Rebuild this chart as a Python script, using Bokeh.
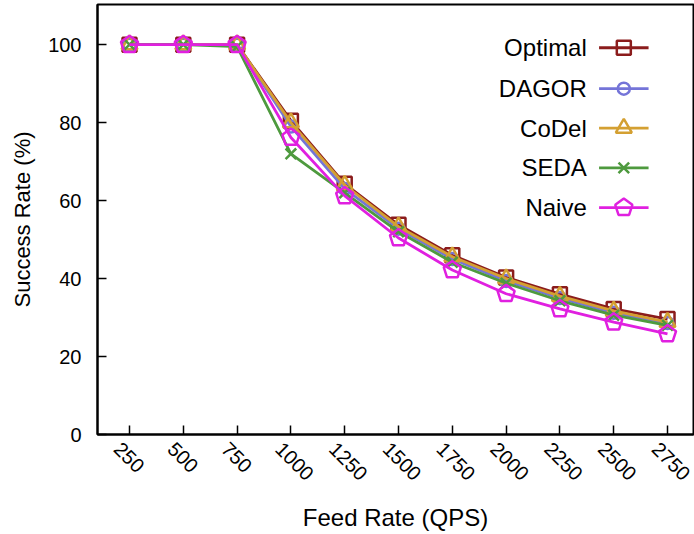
import math
from bokeh.plotting import figure
from bokeh.models import FixedTicker, Range1d, LinearAxis
from bokeh.core.properties import value
from bokeh.embed import file_html
from bokeh.resources import INLINE

qps = [250, 500, 750, 1000, 1250, 1500, 1750, 2000, 2250, 2500, 2750]
optimal = [100, 100, 100, 80.5, 64.3, 53.8, 46.0, 40.3, 36.0, 32.2, 29.6]
dagor = [100, 100, 100, 79.0, 63.0, 52.8, 45.0, 39.4, 35.0, 31.2, 28.6]
codel = [100, 100, 100, 80.0, 64.0, 53.3, 45.6, 40.0, 35.5, 31.7, 28.8]
seda = [100, 100, 99.5, 72.0, 62.0, 52.0, 44.2, 38.8, 34.3, 30.6, 28.0]
naive = [100, 100, 100, 76.2, 61.2, 50.4, 42.2, 36.1, 32.2, 28.8, 25.8]

names = ["Optimal", "DAGOR", "CoDel", "SEDA", "Naive"]
series = [optimal, dagor, codel, seda, naive]
colors = ["#8b1c1c", "#7474d8", "#d4a032", "#4e9a3e", "#e020e0"]
markers = ["square", "circle", "triangle", "x", "pentagon"]
y_ticks = [0, 20, 40, 60, 80, 100]

FONT = "Liberation Sans"
X0, X1 = 101.3, 2870.8
SHIFT = 56  # label axis offset so rotated labels sit centred under ticks

p = figure(width=694, height=534, output_backend="svg", toolbar_location=None,
           x_range=Range1d(X0, X1), y_range=Range1d(0, 110.3),
           min_border_left=97, min_border_right=1, min_border_top=4, min_border_bottom=100)
p.grid.visible = False
p.outline_line_color = "black"
p.outline_line_width = 2
p.background_fill_color = "white"
p.border_fill_color = "white"

for ax in (p.xaxis[0], p.yaxis[0]):
    ax.axis_line_width = 2
    ax.major_tick_in = 9
    ax.major_tick_out = 0
    ax.major_tick_line_width = 1.5
    ax.minor_tick_line_color = None
    ax.major_label_text_font = FONT
    ax.major_label_text_font_size = "20px"
    ax.major_label_text_color = "black"
    ax.axis_label_text_font = FONT
    ax.axis_label_text_font_style = "normal"
    ax.axis_label_text_color = "black"

p.xaxis.ticker = FixedTicker(ticks=qps)
p.yaxis.ticker = FixedTicker(ticks=y_ticks)
p.xaxis.major_label_overrides = {v: "" for v in qps}
p.xaxis.major_label_standoff = 0
p.yaxis.major_label_standoff = 16
p.yaxis.axis_label = "Success Rate (%)"
p.yaxis.axis_label_text_font_size = "22px"
p.yaxis.axis_label_standoff = 10

# label-only axis, shifted so rotated labels are centred under the ticks
p.extra_x_ranges = {"lab": Range1d(X0 + SHIFT, X1 + SHIFT)}
lab = LinearAxis(x_range_name="lab", ticker=FixedTicker(ticks=qps),
                 axis_line_color=None, major_tick_line_color=None, minor_tick_line_color=None,
                 major_label_orientation=-math.pi / 4, major_label_standoff=5,
                 major_label_text_font=FONT, major_label_text_font_size="20px",
                 major_label_text_color="black",
                 axis_label="Feed Rate (QPS)", axis_label_text_font=FONT,
                 axis_label_text_font_size="24px", axis_label_text_font_style="normal",
                 axis_label_text_color="black", axis_label_standoff=14)
p.add_layout(lab, "below")


def draw_marker(x, y, m, c):
    if m == "pentagon":
        p.ngon(x=x, y=y, radius=9, radius_units="screen", n=5, angle=0,
               fill_color=None, line_color=c, line_width=2.5)
    else:
        size = {"square": 14, "circle": 12, "triangle": 16, "x": 15}[m]
        p.scatter(x=x, y=y, marker=m, size=size, fill_color=None,
                  line_color=c, line_width=2.5)


for ys, c, m in zip(series, colors, markers):
    p.line(qps, ys, line_color=c, line_width=2.8)
    draw_marker(qps, ys, m, c)

# manual legend (text right-aligned, sample on the right)
leg_y = [99.2, 88.7, 78.6, 68.4, 58.2]
leg_x0, leg_x1, leg_xm, leg_xt = 2432, 2662, 2547, 2375
for name, c, m, ly in zip(names, colors, markers, leg_y):
    p.line([leg_x0, leg_x1], [ly, ly], line_color=c, line_width=2.8)
    draw_marker([leg_xm], [ly], m, c)
p.text(x=[leg_xt] * 5, y=leg_y, text=names, text_align="right", text_baseline="middle",
       text_font=value(FONT), text_font_size="24px", text_color="black")

open("out.html", "w").write(file_html(p, INLINE))
